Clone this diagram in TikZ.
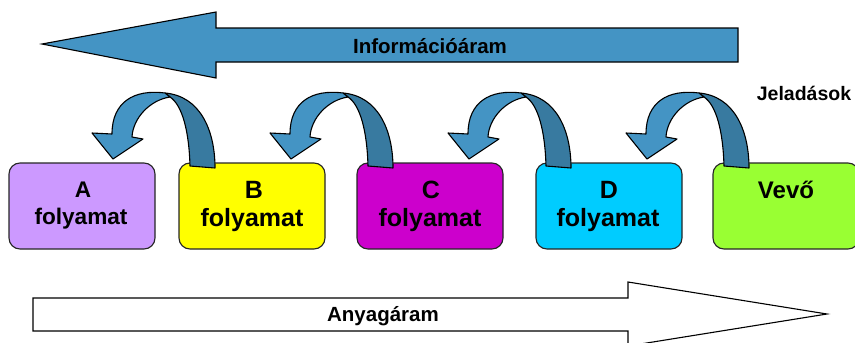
\documentclass[tikz,border=0pt]{standalone}
\usepackage{fontspec}
\setmainfont{Liberation Sans}

\definecolor{flowblue}{HTML}{4494C4}
\definecolor{bandback}{HTML}{387AA0}
\definecolor{procA}{HTML}{CC99FF}
\definecolor{procB}{HTML}{FFFF00}
\definecolor{procC}{HTML}{CC00CC}
\definecolor{procD}{HTML}{00CCFF}
\definecolor{customer}{HTML}{99FF33}

\tikzset{
  procbox/.style={draw=black!85, line width=1.15pt, rounded corners=11pt,
    minimum width=146pt, minimum height=86pt, inner sep=0pt},
  boxtext/.style={font=\bfseries\fontsize{25}{28}\selectfont, anchor=base, inner sep=0pt},
  flowtext/.style={font=\bfseries\fontsize{20.5}{24}\selectfont, anchor=base, inner sep=0pt},
  bigarrow/.style={draw=black, line width=1.1pt, line join=miter},
  band/.style={draw=black, line width=1.1pt, line join=round}
}

% curved signal arrow (twisted ribbon), shifted horizontally by #1
\newcommand{\signalarrow}[1]{%
  \begin{scope}[shift={(#1,0)}]
    % back side of the ribbon
    \filldraw[band, fill=bandback] (190,166) -- (215,168)
      .. controls (215,130) and (200,96) .. (165,93) -- (170,97)
      .. controls (182,105) and (189,130) .. (190,166) -- cycle;
    % front side with the arrow head
    \filldraw[band, fill=flowblue] (165,93)
      .. controls (134,89) and (112,102) .. (112,134)
      -- (92,133) -- (113,159) -- (143,139) -- (132,137)
      .. controls (133,118) and (150,100) .. (170,97) -- cycle;
  \end{scope}}

\begin{document}
\begin{tikzpicture}[x=1pt, y=-1pt]
  \useasboundingbox (0,0) rectangle (855,343);
  \clip (0,0) rectangle (855,343);

  % information flow (right to left)
  \filldraw[bigarrow, fill=flowblue] (738,28) -- (216,28) -- (216,12) -- (42,44)
    -- (216,78) -- (216,62) -- (738,62) -- cycle;
  \node[flowtext] (info) at (430,53) {Információáram};

  % material flow (left to right)
  \draw[bigarrow, fill=white] (33,298) -- (628,298) -- (628,282) -- (827,314)
    -- (628,346) -- (628,331) -- (33,331) -- cycle;
  \node[flowtext] (material) at (383,321) {Anyagáram};

  % process boxes
  \node[procbox, fill=procA] (boxA) at (82,206) {};
  \node[procbox, fill=procB] (boxB) at (252,206) {};
  \node[procbox, fill=procC] (boxC) at (430,206) {};
  \node[procbox, fill=procD] (boxD) at (609,206) {};
  \node[procbox, fill=customer] (boxV) at (786,206) {};

  \node[boxtext, font=\bfseries\fontsize{22.6}{26}\selectfont] (tA1) at (83,197) {A};
  \node[boxtext, font=\bfseries\fontsize{22.6}{26}\selectfont] (tA2) at (81,224) {folyamat};
  \node[boxtext] (tB1) at (254,198) {B};
  \node[boxtext] (tB2) at (252,226) {folyamat};
  \node[boxtext] (tC1) at (431,198) {C};
  \node[boxtext] (tC2) at (430,226) {folyamat};
  \node[boxtext] (tD1) at (609,198) {D};
  \node[boxtext] (tD2) at (608,226) {folyamat};
  \node[boxtext, font=\bfseries\fontsize{24}{28}\selectfont] (tV) at (786,198) {Vevő};

  % signals passed upstream
  \signalarrow{0}
  \signalarrow{178}
  \signalarrow{356}
  \signalarrow{534}

  \node[flowtext, font=\bfseries\fontsize{19.5}{23}\selectfont] (signals) at (804,100) {Jeladások};
\end{tikzpicture}
\end{document}
